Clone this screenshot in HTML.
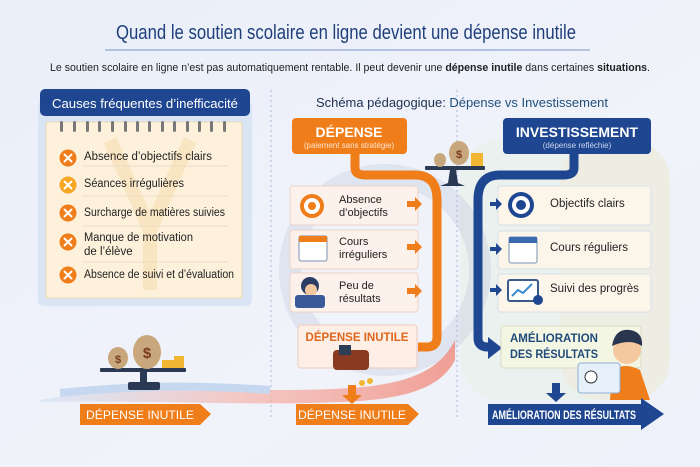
<!DOCTYPE html>
<html><head><meta charset="utf-8"><style>
html,body{margin:0;padding:0;background:#eef2fa}
svg{display:block;font-family:"Liberation Sans",sans-serif}
</style></head><body>
<svg width="700" height="467" viewBox="0 0 700 467" xmlns="http://www.w3.org/2000/svg">
<defs>
<linearGradient id="bg" x1="0" y1="0" x2="1" y2="1"><stop offset="0" stop-color="#e9eef9"/><stop offset="0.6" stop-color="#f1f3fa"/><stop offset="1" stop-color="#eef1f9"/></linearGradient>
<linearGradient id="red" x1="0" y1="0" x2="1" y2="0"><stop offset="0" stop-color="#cfe0f4" stop-opacity="0.6"/><stop offset="0.5" stop-color="#f6b3aa" stop-opacity="0.7"/><stop offset="1" stop-color="#f08a7c" stop-opacity="0.8"/></linearGradient>
</defs>
<rect width="700" height="467" fill="url(#bg)"/>
<rect x="460" y="140" width="210" height="260" rx="40" fill="#e3efe0" opacity="0.45"/>
<rect x="560" y="140" width="110" height="260" rx="40" fill="#f5e8d4" opacity="0.4"/>
<circle cx="385" cy="270" r="95" fill="none" stroke="#b9c4de" stroke-width="22" opacity="0.3"/>
<text x="346" y="39" text-anchor="middle" font-size="20" fill="#1e3f7a" textLength="460" lengthAdjust="spacingAndGlyphs">Quand le soutien scolaire en ligne devient une dépense inutile</text>
<line x1="105" y1="50" x2="590" y2="50" stroke="#8fa8cf" stroke-width="1.2"/>
<text x="350" y="71" text-anchor="middle" font-size="11" fill="#222" textLength="600" lengthAdjust="spacingAndGlyphs">Le soutien scolaire en ligne n’est pas automatiquement rentable. Il peut devenir une <tspan font-weight="bold">dépense inutile</tspan> dans certaines <tspan font-weight="bold">situations</tspan>.</text>
<rect x="38" y="100" width="214" height="206" rx="6" fill="#d9e5f5"/>
<rect x="40" y="89" width="210" height="27" rx="5" fill="#1f4690"/>
<text x="145" y="108" text-anchor="middle" font-size="13" fill="#fff" textLength="186" lengthAdjust="spacingAndGlyphs">Causes fréquentes d’inefficacité</text>
<rect x="46" y="122" width="196" height="176" fill="#fdf1dc" stroke="#ecd9b7"/>
<g fill="#777"><rect x="60" y="121" width="3" height="11" rx="1.5"/><rect x="73" y="121" width="3" height="11" rx="1.5"/><rect x="86" y="121" width="3" height="11" rx="1.5"/><rect x="98" y="121" width="3" height="11" rx="1.5"/><rect x="111" y="121" width="3" height="11" rx="1.5"/><rect x="124" y="121" width="3" height="11" rx="1.5"/><rect x="136" y="121" width="3" height="11" rx="1.5"/><rect x="148" y="121" width="3" height="11" rx="1.5"/><rect x="161" y="121" width="3" height="11" rx="1.5"/><rect x="173" y="121" width="3" height="11" rx="1.5"/><rect x="186" y="121" width="3" height="11" rx="1.5"/><rect x="198" y="121" width="3" height="11" rx="1.5"/><rect x="210" y="121" width="3" height="11" rx="1.5"/><rect x="223" y="121" width="3" height="11" rx="1.5"/></g>
<path d="M110 140 L150 230 L150 290 M190 140 L150 230" stroke="#f6c98a" stroke-width="14" fill="none" opacity="0.3"/>
<g stroke="#e2d6c2" stroke-width="0.8"><line x1="82" y1="166" x2="228" y2="166"/><line x1="82" y1="196" x2="228" y2="196"/><line x1="82" y1="226" x2="228" y2="226"/><line x1="82" y1="262" x2="228" y2="262"/></g>
<g font-size="11.5" fill="#222">
<circle cx="68" cy="158" r="8.5" fill="#ef7d1a"/><text x="84" y="160" textLength="128" lengthAdjust="spacingAndGlyphs">Absence d’objectifs clairs</text>
<circle cx="68" cy="185" r="8.5" fill="#f5a623"/><text x="84" y="187" textLength="100" lengthAdjust="spacingAndGlyphs">Séances irrégulières</text>
<circle cx="68" cy="213" r="8.5" fill="#ef7d1a"/><text x="84" y="216" textLength="141" lengthAdjust="spacingAndGlyphs">Surcharge de matières suivies</text>
<circle cx="68" cy="242" r="8.5" fill="#ef7d1a"/><text x="84" y="241" textLength="109" lengthAdjust="spacingAndGlyphs">Manque de motivation</text><text x="84" y="255">de l’élève</text>
<circle cx="68" cy="275" r="8.5" fill="#ef7d1a"/><text x="84" y="278" textLength="150" lengthAdjust="spacingAndGlyphs">Absence de suivi et d’évaluation</text>
</g>
<g stroke="#fff" stroke-width="2" stroke-linecap="round"><path d="M64.5 154.5l7 7m0-7l-7 7"/><path d="M64.5 181.5l7 7m0-7l-7 7"/><path d="M64.5 209.5l7 7m0-7l-7 7"/><path d="M64.5 238.5l7 7m0-7l-7 7"/><path d="M64.5 271.5l7 7m0-7l-7 7"/></g>
<line x1="271" y1="90" x2="271" y2="420" stroke="#a9b8d4" stroke-dasharray="2 3"/>
<line x1="457" y1="90" x2="457" y2="420" stroke="#a9b8d4" stroke-dasharray="2 3"/>
<path d="M40 400 C150 380 250 395 350 388 C410 384 440 370 455 340 L455 360 C440 390 400 400 340 402 C250 406 150 400 40 402Z" fill="url(#red)"/>
<text x="316" y="107" font-size="13" fill="#1e3050" textLength="292" lengthAdjust="spacingAndGlyphs">Schéma pédagogique: <tspan fill="#1f4f7a">Dépense vs Investissement</tspan></text>
<path d="M355 150 L355 168 Q355 175 365 175 L415 175 Q437 175 437 200 L437 337 Q437 347 427 347 L418 347" stroke="#ef7d1a" stroke-width="9" fill="none"/>
<rect x="292" y="118" width="115" height="36" rx="4" fill="#ef7d1a"/>
<text x="349" y="137" text-anchor="middle" font-size="14" font-weight="bold" fill="#fff">DÉPENSE</text>
<text x="349" y="148" text-anchor="middle" font-size="8" fill="#ffe5cc">(paiement sans stratégie)</text>
<path d="M574 150 L574 168 Q574 175 564 175 L500 175 Q478 175 478 200 L478 338 Q478 347 488 347 L492 347" stroke="#1f4690" stroke-width="9" fill="none"/>
<polygon points="488,337 502,348 488,359" fill="#1f4690"/>
<rect x="503" y="118" width="148" height="36" rx="4" fill="#1f4690"/>
<text x="577" y="137" text-anchor="middle" font-size="14" font-weight="bold" fill="#fff">INVESTISSEMENT</text>
<text x="577" y="148" text-anchor="middle" font-size="8" fill="#cdd8ee">(dépense refléchie)</text>
<rect x="425" y="166" width="60" height="4" rx="1" fill="#2a3a55"/><path d="M450 170 L448 183 L440 186 L465 186 L458 183 L456 170Z" fill="#2a3a55"/>
<ellipse cx="440" cy="160" rx="6" ry="7" fill="#c9a77c"/><ellipse cx="459" cy="153" rx="10" ry="12" fill="#c9a77c"/>
<text x="459" y="158" text-anchor="middle" font-size="11" font-weight="bold" fill="#7a3a1a">$</text>
<rect x="471" y="153" width="12" height="13" fill="#f2b632"/>
<g fill="#fdf1eb" stroke="#edd2c6"><rect x="290" y="186" width="128" height="39" rx="3"/><rect x="290" y="230" width="128" height="39" rx="3"/><rect x="290" y="273" width="128" height="39" rx="3"/></g>
<circle cx="312" cy="206" r="12" fill="#ef7d1a"/><circle cx="312" cy="206" r="8" fill="#fff"/><circle cx="312" cy="206" r="4" fill="#ef7d1a"/>
<rect x="299" y="236" width="28" height="25" rx="2" fill="#fff" stroke="#7a8fb0"/><rect x="299" y="236" width="28" height="6" fill="#ef7d1a"/>
<circle cx="310" cy="286" r="9" fill="#2c3e66"/><circle cx="311" cy="290" r="6" fill="#f1c8a0"/><rect x="295" y="295" width="30" height="13" rx="3" fill="#3a5a9a"/>
<g font-size="11" fill="#222"><text x="339" y="203">Absence</text><text x="339" y="216">d’objectifs</text><text x="339" y="245">Cours</text><text x="339" y="258">irréguliers</text><text x="339" y="289">Peu de</text><text x="339" y="302">résultats</text></g>
<g fill="#ef7d1a"><path d="M407 201h8v-4l7 7-7 7v-4h-8z"/><path d="M407 244h8v-4l7 7-7 7v-4h-8z"/><path d="M407 288h8v-4l7 7-7 7v-4h-8z"/></g>
<rect x="298" y="325" width="119" height="43" rx="3" fill="#fdeee6" stroke="#eccbbd"/>
<text x="357" y="341" text-anchor="middle" font-size="11.5" font-weight="bold" fill="#e0661a">DÉPENSE INUTILE</text>
<rect x="333" y="350" width="36" height="20" rx="4" fill="#8b3a22"/><rect x="339" y="345" width="12" height="10" fill="#2c3e55"/>
<circle cx="362" cy="383" r="3" fill="#f2b632"/><circle cx="370" cy="381" r="3" fill="#f2b632"/>
<g fill="#fbf5ea" stroke="#d8dfe8"><rect x="498" y="186" width="153" height="39" rx="3"/><rect x="498" y="231" width="153" height="38" rx="3"/><rect x="498" y="274" width="153" height="38" rx="3"/></g>
<g fill="#1f4690"><path d="M490 202h6v-4l6 6-6 6v-4h-6z"/><path d="M490 247h6v-4l6 6-6 6v-4h-6z"/><path d="M490 288h6v-4l6 6-6 6v-4h-6z"/></g>
<circle cx="521" cy="205" r="13" fill="#1f4690"/><circle cx="521" cy="205" r="9" fill="#fff"/><circle cx="521" cy="205" r="5" fill="#1f4690"/>
<rect x="509" y="237" width="28" height="26" rx="2" fill="#fff" stroke="#7a8fb0"/><rect x="509" y="237" width="28" height="6" fill="#3a6ab0"/>
<rect x="508" y="280" width="30" height="21" rx="2" fill="#fff" stroke="#3a5a8a" stroke-width="2"/><path d="M512 296l6-6 5 3 9-9" stroke="#3a8ad0" stroke-width="2" fill="none"/>
<circle cx="538" cy="300" r="5" fill="#1f4690"/>
<g font-size="11.5" fill="#222"><text x="550" y="207">Objectifs clairs</text><text x="550" y="251">Cours réguliers</text><text x="550" y="292">Suivi des progrès</text></g>
<rect x="501" y="326" width="140" height="42" rx="3" fill="#f4f6e4" stroke="#d9dcc4"/>
<g font-size="12" font-weight="bold" fill="#1f4a7a"><text x="510" y="342" textLength="88" lengthAdjust="spacingAndGlyphs">AMÉLIORATION</text><text x="510" y="358" textLength="88" lengthAdjust="spacingAndGlyphs">DES RÉSULTATS</text></g>
<path d="M610 400 L612 370 Q625 362 640 370 L650 400Z" fill="#ef7d1a"/>
<circle cx="627" cy="350" r="14" fill="#f4c9a0"/><path d="M612 346 Q615 328 630 330 Q643 332 642 346 Q630 338 612 346Z" fill="#2a3550"/>
<rect x="578" y="363" width="42" height="30" rx="3" fill="#e6f0fa" stroke="#8fb0d8"/><circle cx="591" cy="377" r="6" fill="#fff" stroke="#333"/>
<path d="M60 393 C140 385 200 385 270 390" stroke="#c6d8f0" stroke-width="8" fill="none"/>
<rect x="100" y="368" width="86" height="4" rx="1" fill="#2a3a55"/><rect x="140" y="372" width="7" height="12" fill="#2a3a55"/><rect x="128" y="382" width="32" height="8" rx="2" fill="#2a3a55"/>
<ellipse cx="118" cy="358" rx="10" ry="11" fill="#c9a77c"/><ellipse cx="147" cy="352" rx="14" ry="17" fill="#c9a77c"/>
<text x="118" y="363" text-anchor="middle" font-size="11" font-weight="bold" fill="#7a3a1a">$</text><text x="147" y="358" text-anchor="middle" font-size="15" font-weight="bold" fill="#7a3a1a">$</text>
<rect x="162" y="360" width="16" height="8" fill="#f2b632"/><rect x="174" y="356" width="10" height="12" fill="#f2b632"/>
<path d="M80 404 H200 L211 414 L200 425 H80Z" fill="#ef7d1a"/>
<text x="140" y="419" text-anchor="middle" font-size="12" fill="#fff" textLength="108" lengthAdjust="spacingAndGlyphs">DÉPENSE INUTILE</text>
<path d="M348 385h8v10h6l-10 9-10-9h6z" fill="#ef7d1a"/>
<path d="M296 404 H408 L419 414 L408 425 H296Z" fill="#ef7d1a"/>
<text x="352" y="419" text-anchor="middle" font-size="12" fill="#fff" textLength="108" lengthAdjust="spacingAndGlyphs">DÉPENSE INUTILE</text>
<path d="M552 383h8v10h6l-10 9-10-9h6z" fill="#1f4690"/>
<path d="M488 404 H641 L641 398 L664 414 L641 430 L641 425 H488Z" fill="#1f4690"/>
<text x="564" y="419" text-anchor="middle" font-size="11.5" font-weight="bold" fill="#fff" textLength="144" lengthAdjust="spacingAndGlyphs">AMÉLIORATION DES RÉSULTATS</text>
</svg>
</body></html>
